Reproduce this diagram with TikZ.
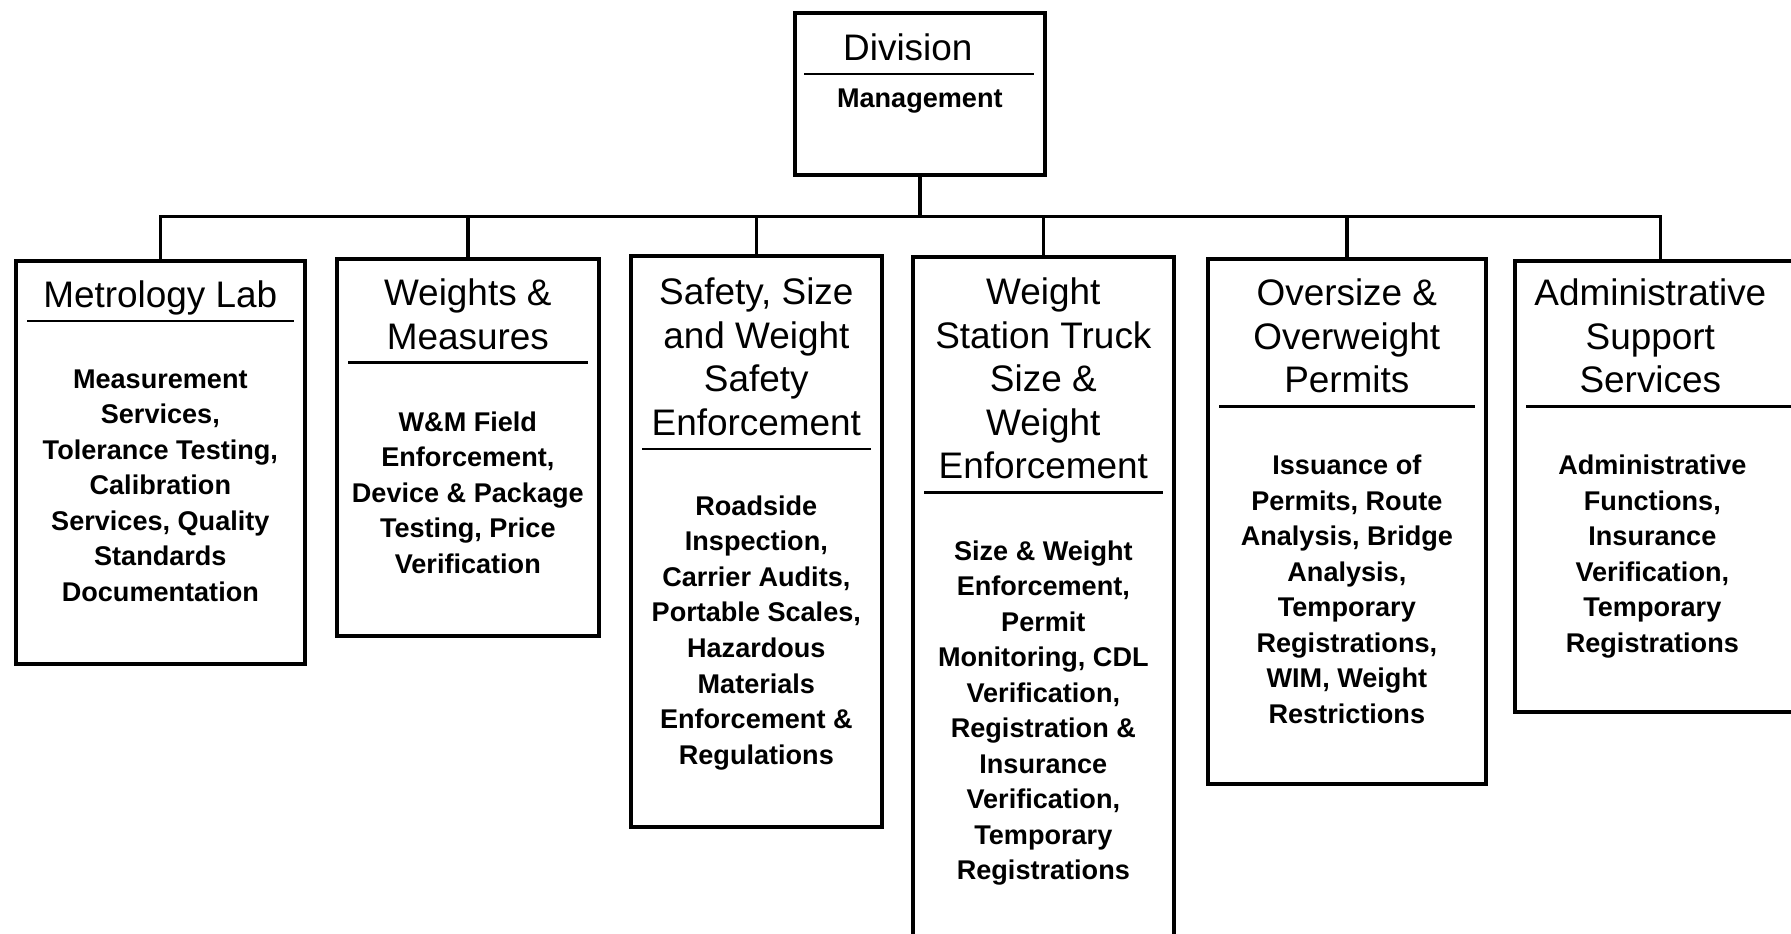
\documentclass[tikz,border=0pt]{standalone}
\usepackage{fontspec}
\setmainfont{Liberation Sans}
\usetikzlibrary{positioning,calc}

\tikzset{
  unit/.style={draw, line width=1pt, anchor=north west, inner sep=0pt},
  ttl/.style={anchor=north, align=center, inner sep=0pt, font=\fontsize{10.5}{12.4}\selectfont},
  body/.style={anchor=north, align=center, inner sep=0pt, font=\bfseries\fontsize{7.7}{10.1}\selectfont},
  bar/.style={line width=0.8pt},
  link/.style={line width=1pt},
}

\begin{document}
\begin{tikzpicture}[x=0.01cm, y=-0.01cm]
    \useasboundingbox (0,0) rectangle (1791,934);
    \clip (0,0) rectangle (1791,934);

    % Division box
    \node[unit, minimum width=2.50cm, minimum height=1.62cm] (div) at (793,11) {};
    \node[ttl, below=0.18cm of div.north, xshift=-0.12cm] (divT) {Division\strut};
    \draw[bar] ([xshift=0.11cm]div.west |- divT.south) -- ([xshift=-0.13cm]div.east |- divT.south);
    \node[body, below=0.14cm of div.north |- divT.south] (divB) {Management};

    % Units
    \node[unit, minimum width=2.89cm, minimum height=4.03cm] (metro) at (14,259) {};
    \node[unit, minimum width=2.62cm, minimum height=3.77cm] (wm) at (335,257) {};
    \node[unit, minimum width=2.51cm, minimum height=5.71cm] (ssw) at (629,254) {};
    \node[unit, minimum width=2.61cm, minimum height=7.20cm] (wst) at (911,255) {};
    \node[unit, minimum width=2.78cm, minimum height=5.25cm] (osow) at (1206,257) {};
    \node[unit, minimum width=2.91cm, minimum height=4.51cm] (adm) at (1513,259) {};

    % Titles
    \node[ttl, below=0.17cm of metro.north] (metroT) {Metrology Lab\strut};
    \node[ttl, below=0.21cm of wm.north] (wmT) {Weights \&\\ Measures\strut};
    \node[ttl, below=0.23cm of ssw.north] (sswT) {Safety, Size\\ and Weight\\ Safety\\ Enforcement\strut};
    \node[ttl, below=0.22cm of wst.north] (wstT) {Weight\\ Station Truck\\ Size \&\\ Weight\\ Enforcement\strut};
    \node[ttl, below=0.21cm of osow.north] (osowT) {Oversize \&\\ Overweight\\ Permits\strut};
    \node[ttl, below=0.19cm of adm.north, xshift=-0.1cm] (admT) {Administrative\\ Support\\ Services\strut};

    % Rules under the titles
    \foreach \b in {metro,wm,ssw,wst,osow,adm} {
        \draw[bar] ([xshift=0.13cm]\b.west |- \b T.south) -- ([xshift=-0.13cm]\b.east |- \b T.south);
        \coordinate (\b R) at (\b.north |- \b T.south);
    }

    % Functions
    \node[body, below=0.48cm of metroR] (metroB) {Measurement\\ Services,\\ Tolerance Testing,\\ Calibration\\ Services, Quality\\ Standards\\ Documentation};
    \node[body, below=0.48cm of wmR] (wmB) {W\&M Field\\ Enforcement,\\ Device \& Package\\ Testing, Price\\ Verification};
    \node[body, below=0.46cm of sswR] (sswB) {Roadside\\ Inspection,\\ Carrier Audits,\\ Portable Scales,\\ Hazardous\\ Materials\\ Enforcement \&\\ Regulations};
    \node[body, below=0.47cm of wstR] (wstB) {Size \& Weight\\ Enforcement,\\ Permit\\ Monitoring, CDL\\ Verification,\\ Registration \&\\ Insurance\\ Verification,\\ Temporary\\ Registrations};
    \node[body, below=0.48cm of osowR] (osowB) {Issuance of\\ Permits, Route\\ Analysis, Bridge\\ Analysis,\\ Temporary\\ Registrations,\\ WIM, Weight\\ Restrictions};
    \node[body, below=0.48cm of admR, xshift=-0.08cm] (admB) {Administrative\\ Functions,\\ Insurance\\ Verification,\\ Temporary\\ Registrations};

    % Connectors
    \coordinate (hub) at ($(div.south)+(0,40)$);
    \draw[link] (div.south) -- (hub);
    \foreach \b in {metro,wm,ssw,wst,osow,adm}
        \draw[link] (\b.north) |- (hub);

\end{tikzpicture}
\end{document}
